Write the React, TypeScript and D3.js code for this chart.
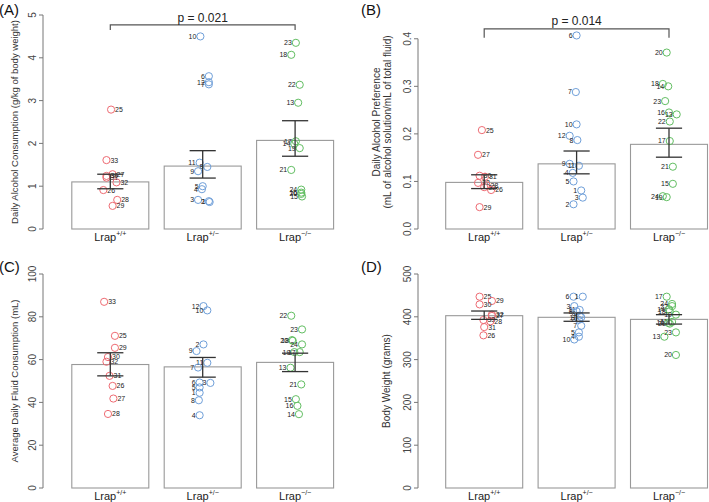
import React from "react";
import * as d3 from "d3";

// ---------- shared ----------
const categories = ["+/+", "+/\u2212", "\u2212/\u2212"];
const groupColors = ["#EE6B73", "#6F9FD9", "#62BE62"];

// ---------- Panel A: Daily Alcohol Consumption ----------
const aMeans = [1.1, 1.47, 2.07];
const aLo = [0.94, 1.19, 1.7];
const aHi = [1.28, 1.83, 2.53];
const aWtIds = [25, 33, 27, 30, 31, 32, 26, 28, 29];
const aWtVals = [2.79, 1.61, 1.28, 1.24, 1.2, 1.09, 0.91, 0.68, 0.54];
const aWtJit = [0.01, -0.05, 0.03, -0.05, -0.05, 0.08, -0.09, 0.09, 0.03];
const aHetIds = [10, 6, 12, 7, 11, 8, 9, 5, 4, 3, 2, 1];
const aHetVals = [4.5, 3.57, 3.43, 3.38, 1.55, 1.45, 1.35, 1.0, 0.93, 0.68, 0.65, 0.63];
const aHetJit = [-0.03, 0.08, 0.08, 0.08, -0.04, 0.06, -0.06, 0, -0.01, -0.06, 0.08, 0.09];
const aKoIds = [23, 18, 22, 13, 17, 14, 19, 21, 24, 16, 20, 15];
const aKoVals = [4.35, 4.07, 3.37, 2.95, 2.05, 1.99, 1.89, 1.38, 0.92, 0.85, 0.82, 0.76];
const aKoJit = [0.01, -0.05, 0.06, 0.04, 0.01, -0.01, 0.06, -0.05, 0.08, 0.08, 0.08, 0.09];

// ---------- Panel B: Daily Alcohol Preference ----------
const bMeans = [0.098, 0.137, 0.178];
const bLo = [0.085, 0.116, 0.151];
const bHi = [0.114, 0.164, 0.212];
const bWtIds = [25, 27, 30, 31, 32, 28, 33, 26, 29];
const bWtVals = [0.208, 0.156, 0.112, 0.11, 0.097, 0.092, 0.088, 0.082, 0.046];
const bWtJit = [-0.03, -0.08, -0.06, 0.01, -0.08, 0.03, 0, 0.09, -0.06];
const bHetIds = [6, 7, 10, 12, 8, 9, 11, 4, 5, 1, 3, 2];
const bHetVals = [0.407, 0.288, 0.22, 0.196, 0.187, 0.137, 0.133, 0.118, 0.1, 0.081, 0.066, 0.052];
const bHetJit = [0, -0.01, 0, -0.09, 0.01, -0.09, 0.03, -0.05, -0.04, 0.06, 0.08, -0.04];
const bKoIds = [20, 18, 14, 23, 16, 13, 22, 17, 21, 15, 24, 19];
const bKoVals = [0.371, 0.305, 0.3, 0.269, 0.245, 0.241, 0.226, 0.185, 0.131, 0.095, 0.069, 0.067];
const bKoJit = [-0.03, -0.08, -0.01, -0.05, 0, 0.1, 0.01, 0.01, 0.05, 0.05, -0.08, -0.03];

// ---------- Panel C: Average Daily Fluid Consumption ----------
const cMeans = [57.7, 56.6, 58.7];
const cLo = [52.4, 51.8, 54.4];
const cHi = [63.2, 61.0, 63.0];
const cWtIds = [33, 25, 29, 30, 32, 31, 26, 27, 28];
const cWtVals = [87.0, 71.1, 65.5, 61.2, 59.0, 52.4, 47.7, 41.8, 34.6];
const cWtJit = [-0.08, 0.06, 0.06, -0.03, -0.05, -0.01, 0.03, 0.04, -0.03];
const cHetIds = [12, 10, 2, 9, 11, 7, 6, 3, 5, 1, 8, 4];
const cHetVals = [85.0, 83.0, 67.1, 64.0, 58.5, 56.3, 49.3, 49.1, 47.0, 44.5, 41.0, 34.0];
const cHetJit = [0.01, 0.06, 0.01, -0.08, 0.06, -0.06, -0.04, 0.1, -0.04, -0.04, -0.05, -0.04];
const cKoIds = [22, 23, 20, 18, 24, 19, 17, 13, 21, 15, 16, 14];
const cKoVals = [80.5, 74.1, 69.1, 68.8, 67.1, 63.5, 63.5, 56.2, 48.4, 41.5, 38.4, 34.5];
const cKoJit = [-0.05, 0.09, -0.04, -0.03, 0.09, -0.01, 0.06, -0.06, 0.08, 0.01, 0.03, 0.05];

// ---------- Panel D: Body Weight ----------
const dMeans = [402.6, 398.8, 394];
const dLo = [394, 389.5, 383];
const dHi = [413.5, 409, 405];
const dWtIds = [25, 29, 30, 32, 27, 33, 28, 31, 26];
const dWtVals = [447, 437, 429, 405, 402, 392.5, 389.5, 376, 356.7];
const dWtJit = [-0.06, 0.1, -0.06, 0.1, 0.1, -0.01, 0.08, 0, -0.01];
const dHetIds = [6, 1, 3, 11, 8, 9, 12, 2, 7, 5, 4, 10];
const dHetVals = [447, 447, 425, 416, 413, 403, 399, 393, 379, 363.6, 353.5, 347];
const dHetJit = [-0.04, 0.08, -0.03, 0.04, 0, 0.04, 0.06, 0.03, 0.06, 0.03, 0.03, -0.03];
const dKoIds = [17, 24, 22, 14, 18, 19, 15, 16, 21, 23, 13, 20];
const dKoVals = [447, 430, 425, 417.5, 413, 405, 388, 386, 384, 363.6, 353.5, 310.8];
const dKoJit = [-0.03, 0.04, 0.04, 0, 0.01, 0.09, 0.04, -0.01, 0.01, 0.09, -0.06, 0.09];

const pA = "p = 0.021";
const pB = "p = 0.014";

type Grp = { ids: number[]; vals: number[]; jit: number[] };
type PanelCfg = {
  letter: string;
  letterX: number;
  letterY: number;
  axisX: number;
  x0: number;
  yTop: number;
  yBot: number;
  domain: [number, number];
  ticks: number[];
  fmt: (v: number) => string;
  ylabel: string[];
  ylabelX: number[];
  ylabelSize: number;
  means: number[];
  lo: number[];
  hi: number[];
  groups: Grp[];
  p?: { text: string; level: number; drop: number; textDy: number };
};

const FONT = "'Liberation Sans', Arial, Helvetica, sans-serif";
const UNIT = 77; // px per bar width

const panels: PanelCfg[] = [
  {
    letter: "(A)", letterX: -1, letterY: 15, axisX: 43, x0: 56.4, yTop: 15, yBot: 229,
    domain: [0, 5], ticks: [0, 1, 2, 3, 4, 5], fmt: d3.format("d"),
    ylabel: ["Daily Alcohol Consumption (g/kg of body weight)"], ylabelX: [18], ylabelSize: 9.5,
    means: aMeans, lo: aLo, hi: aHi,
    groups: [
      { ids: aWtIds, vals: aWtVals, jit: aWtJit },
      { ids: aHetIds, vals: aHetVals, jit: aHetJit },
      { ids: aKoIds, vals: aKoVals, jit: aKoJit },
    ],
    p: { text: pA, level: 4.77, drop: 4.65, textDy: -3 },
  },
  {
    letter: "(B)", letterX: 361, letterY: 15, axisX: 418, x0: 430.3, yTop: 15, yBot: 229,
    domain: [0, 0.45], ticks: [0, 0.1, 0.2, 0.3, 0.4], fmt: d3.format(".1f"),
    ylabel: ["Daily Alcohol Preference", "(mL of alcohol solution/mL of total fluid)"], ylabelX: [380, 391], ylabelSize: 10,
    means: bMeans, lo: bLo, hi: bHi,
    groups: [
      { ids: bWtIds, vals: bWtVals, jit: bWtJit },
      { ids: bHetIds, vals: bHetVals, jit: bHetJit },
      { ids: bKoIds, vals: bKoVals, jit: bKoJit },
    ],
    p: { text: pB, level: 0.421, drop: 0.402, textDy: -3.5 },
  },
  {
    letter: "(C)", letterX: -1, letterY: 272, axisX: 43, x0: 56.4, yTop: 274, yBot: 488,
    domain: [0, 100], ticks: [0, 20, 40, 60, 80, 100], fmt: d3.format("d"),
    ylabel: ["Average Daily Fluid Consumption (mL)"], ylabelX: [18], ylabelSize: 9.5,
    means: cMeans, lo: cLo, hi: cHi,
    groups: [
      { ids: cWtIds, vals: cWtVals, jit: cWtJit },
      { ids: cHetIds, vals: cHetVals, jit: cHetJit },
      { ids: cKoIds, vals: cKoVals, jit: cKoJit },
    ],
  },
  {
    letter: "(D)", letterX: 361, letterY: 272, axisX: 418, x0: 430.3, yTop: 274, yBot: 488,
    domain: [0, 500], ticks: [0, 100, 200, 300, 400, 500], fmt: d3.format("d"),
    ylabel: ["Body Weight (grams)"], ylabelX: [390], ylabelSize: 10,
    means: dMeans, lo: dLo, hi: dHi,
    groups: [
      { ids: dWtIds, vals: dWtVals, jit: dWtJit },
      { ids: dHetIds, vals: dHetVals, jit: dHetJit },
      { ids: dKoIds, vals: dKoVals, jit: dKoJit },
    ],
  },
];

function Panel({ c }: { c: PanelCfg }) {
  const x = d3.scaleLinear().domain([0, 3.6]).range([c.x0, c.x0 + 3.6 * UNIT]);
  const y = d3.scaleLinear().domain(c.domain).range([c.yBot, c.yTop]);
  const center = (i: number) => 0.7 + 1.2 * i;
  const yMid = (c.yTop + c.yBot) / 2;
  const t0 = y(c.ticks[0]);
  const t1 = y(c.ticks[c.ticks.length - 1]);
  return (
    <g fontFamily={FONT}>
      <text x={c.letterX} y={c.letterY} fontSize={15} fill="#111">{c.letter}</text>
      {/* y axis */}
      <line x1={c.axisX} x2={c.axisX} y1={t0} y2={t1} stroke="#777" strokeWidth={1} />
      {c.ticks.map((t) => (
        <g key={t}>
          <line x1={c.axisX - 4} x2={c.axisX} y1={y(t)} y2={y(t)} stroke="#777" strokeWidth={1} />
          <text
            transform={`translate(${c.axisX - 7},${y(t)}) rotate(-90)`}
            textAnchor="middle"
            fontSize={10}
            fill="#444"
          >
            {c.fmt(t)}
          </text>
        </g>
      ))}
      {c.ylabel.map((l, k) => (
        <text
          key={k}
          transform={`translate(${c.ylabelX[k]},${yMid}) rotate(-90)`}
          textAnchor="middle"
          fontSize={c.ylabelSize}
          fill="#333"
        >
          {l}
        </text>
      ))}
      {/* bars */}
      {c.means.map((m, i) => (
        <rect
          key={i}
          x={x(center(i) - 0.5)}
          width={x(1) - x(0)}
          y={y(m)}
          height={y(0) - y(m)}
          fill="#fff"
          stroke="#999"
          strokeWidth={1.1}
        />
      ))}
      {/* points */}
      {c.groups.map((g, gi) => (
        <g key={gi}>
          {g.vals.map((v, k) => {
            const cx = x(center(gi) + g.jit[k]);
            const cy = y(v);
            const right = gi === 0;
            return (
              <g key={k}>
                <circle cx={cx} cy={cy} r={3.6} fill="none" stroke={groupColors[gi]} strokeWidth={1} />
                <text
                  x={right ? cx + 4 : cx - 4}
                  y={cy}
                  dy="0.35em"
                  textAnchor={right ? "start" : "end"}
                  fontSize={7}
                  fill="#222"
                >
                  {g.ids[k]}
                </text>
              </g>
            );
          })}
        </g>
      ))}
      {/* error bars */}
      {c.means.map((m, i) => {
        const cx = x(center(i));
        const hw = (x(1) - x(0)) * 0.17;
        return (
          <g key={i} stroke="#333" strokeWidth={1.3}>
            <line x1={cx} x2={cx} y1={y(c.lo[i])} y2={y(c.hi[i])} />
            <line x1={cx - hw} x2={cx + hw} y1={y(c.lo[i])} y2={y(c.lo[i])} />
            <line x1={cx - hw} x2={cx + hw} y1={y(c.hi[i])} y2={y(c.hi[i])} />
          </g>
        );
      })}
      {/* category labels */}
      {categories.map((cat, i) => (
        <text key={i} x={x(center(i))} y={c.yBot + 12} textAnchor="middle" fontSize={11} fill="#222">
          Lrap
          <tspan fontSize={7} dy={-5}>{cat}</tspan>
        </text>
      ))}
      {/* significance bracket */}
      {c.p && (
        <g>
          <path
            d={`M${x(center(0))},${y(c.p.drop)}V${y(c.p.level)}H${x(center(2))}V${y(c.p.drop)}`}
            fill="none"
            stroke="#555"
            strokeWidth={1.2}
          />
          <text x={x(center(1))} y={y(c.p.level) + c.p.textDy} textAnchor="middle" fontSize={12} fill="#222">
            {c.p.text}
          </text>
        </g>
      )}
    </g>
  );
}

export default function App() {
  return (
    <svg width={709} height={502} style={{ display: "block", position: "absolute", left: 0, top: 0, background: "#fff" }}>
      <rect width={709} height={502} fill="#fff" />
      {panels.map((p) => (
        <Panel key={p.letter} c={p} />
      ))}
    </svg>
  );
}
